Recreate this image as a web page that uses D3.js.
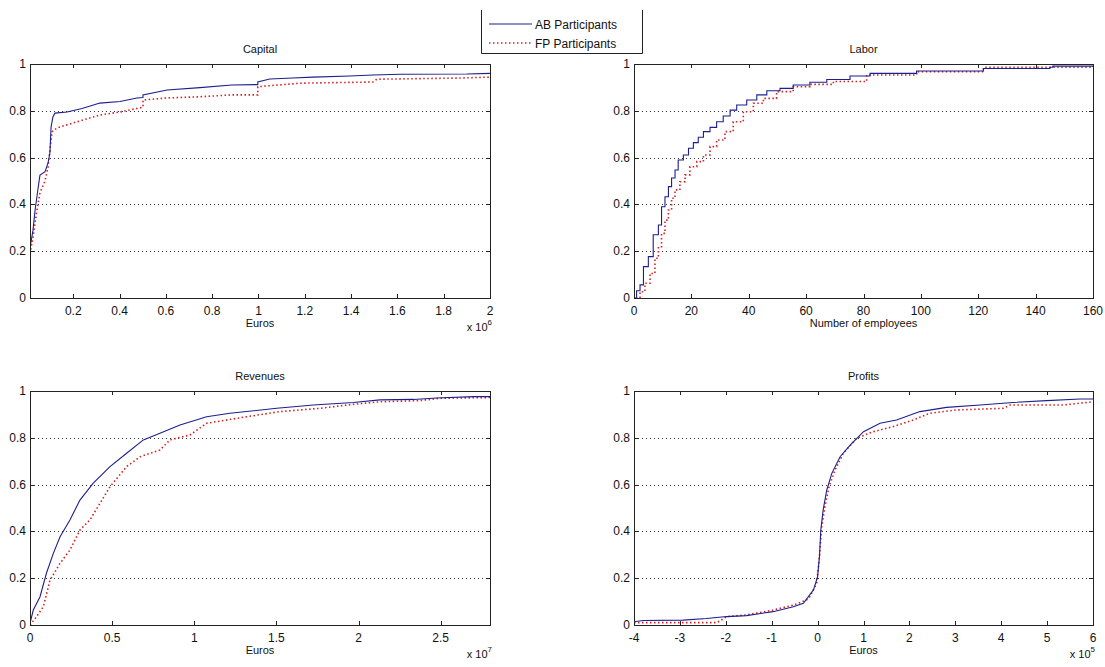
<!DOCTYPE html>
<html>
<head>
<meta charset="utf-8">
<script src="https://cdn.jsdelivr.net/npm/d3@7"></script>
<style>
  body { margin: 0; background: #fff; }
  svg text { font-family: "Liberation Sans", Arial, sans-serif; fill: #111; }
</style>
</head>
<body>
<svg id="chart" width="1105" height="667"></svg>
<script>
const capitalAB = [[0.013,0.214],[0.026,0.29],[0.035,0.376],[0.048,0.47],[0.056,0.525],[0.078,0.54],[0.091,0.577],[0.099,0.62],[0.104,0.73],[0.112,0.774],[0.121,0.79],[0.173,0.795],[0.238,0.81],[0.315,0.833],[0.402,0.84],[0.475,0.855],[0.501,0.857],[0.501,0.868],[0.605,0.889],[0.747,0.899],[0.885,0.91],[0.997,0.912],[0.997,0.923],[1.049,0.936],[1.148,0.94],[1.235,0.944],[1.395,0.949],[1.494,0.953],[1.611,0.956],[1.9,0.957],[2.0,0.96]];
const capitalFP = [[0.013,0.19],[0.026,0.26],[0.043,0.376],[0.056,0.45],[0.078,0.5],[0.091,0.56],[0.099,0.63],[0.108,0.71],[0.13,0.727],[0.216,0.753],[0.315,0.782],[0.402,0.795],[0.475,0.81],[0.501,0.815],[0.501,0.846],[0.605,0.855],[0.747,0.86],[0.885,0.868],[0.997,0.868],[0.997,0.903],[1.179,0.918],[1.494,0.923],[1.511,0.935],[1.87,0.94],[2.0,0.944]];

const laborAB = [[0,0],[0.9,0.031],[2.1,0.056],[3.3,0.134],[5.0,0.177],[6.7,0.27],[8.5,0.312],[9.6,0.39],[10.8,0.433],[12.0,0.476],[13.1,0.513],[14.3,0.547],[15.4,0.59],[17.2,0.611],[19.0,0.64],[20.7,0.664],[22.4,0.687],[24.2,0.711],[26.5,0.729],[28.8,0.753],[31.1,0.778],[33.5,0.803],[35.8,0.825],[39.3,0.846],[42.8,0.868],[46.3,0.886],[50.9,0.896],[55.5,0.91],[61.3,0.922],[67.2,0.934],[75.3,0.949],[82.3,0.96],[98.5,0.97],[121.8,0.981],[145,0.986],[146,0.991],[160,0.991]];
const laborFP = [[0.7,0],[2.1,0.027],[3.8,0.063],[5.6,0.105],[7.3,0.17],[8.5,0.219],[9.6,0.276],[10.8,0.333],[12.0,0.376],[13.1,0.426],[14.3,0.462],[16.0,0.497],[17.8,0.526],[19.5,0.561],[21.9,0.583],[24.2,0.611],[26.5,0.647],[28.8,0.675],[31.7,0.711],[34.6,0.753],[38.1,0.796],[41.6,0.832],[45.1,0.853],[49.7,0.882],[55.5,0.903],[61.3,0.913],[69.5,0.925],[81.1,0.953],[98.5,0.967],[121.8,0.986],[160,0.99]];

const revenuesAB = [[0,0.007],[0.02,0.064],[0.061,0.121],[0.10,0.221],[0.142,0.306],[0.183,0.377],[0.243,0.449],[0.304,0.534],[0.385,0.606],[0.487,0.677],[0.588,0.734],[0.69,0.791],[0.791,0.819],[0.913,0.855],[1.075,0.89],[1.217,0.905],[1.502,0.926],[1.725,0.94],[1.968,0.951],[2.13,0.962],[2.333,0.964],[2.475,0.97],[2.7,0.976],[2.8,0.976]];
const revenuesFP = [[0,0],[0.04,0.036],[0.081,0.078],[0.122,0.192],[0.183,0.264],[0.243,0.32],[0.304,0.406],[0.365,0.449],[0.426,0.52],[0.487,0.591],[0.588,0.677],[0.67,0.719],[0.791,0.748],[0.852,0.791],[0.974,0.812],[1.075,0.862],[1.318,0.89],[1.521,0.912],[1.765,0.926],[1.968,0.943],[2.13,0.954],[2.374,0.959],[2.496,0.969],[2.8,0.972]];

const profitsAB = [[-4,0.014],[-3.8,0.019],[-2.93,0.021],[-2.42,0.028],[-1.98,0.036],[-1.55,0.04],[-0.97,0.057],[-0.53,0.078],[-0.31,0.093],[-0.09,0.15],[0.0,0.207],[0.04,0.292],[0.07,0.406],[0.12,0.491],[0.2,0.577],[0.31,0.648],[0.49,0.719],[0.71,0.769],[1.0,0.826],[1.36,0.862],[1.72,0.876],[2.23,0.912],[2.81,0.93],[3.54,0.94],[4.26,0.951],[4.99,0.959],[5.72,0.966],[6,0.966]];
const profitsFP = [[-4,0.01],[-2.2,0.01],[-2.1,0.021],[-1.98,0.036],[-1.55,0.043],[-0.97,0.064],[-0.53,0.085],[-0.24,0.107],[-0.17,0.121],[-0.02,0.178],[0.04,0.292],[0.09,0.42],[0.16,0.506],[0.25,0.591],[0.38,0.662],[0.56,0.734],[0.85,0.798],[1.21,0.826],[1.65,0.848],[2.08,0.876],[2.45,0.905],[3.03,0.919],[4.05,0.926],[4.19,0.94],[5.35,0.94],[6,0.954]];

const yTicks = [0, 0.2, 0.4, 0.6, 0.8, 1];
const capitalTicks = [0.2, 0.4, 0.6, 0.8, 1, 1.2, 1.4, 1.6, 1.8, 2];
const laborTicks = [0, 20, 40, 60, 80, 100, 120, 140, 160];
const revenuesTicks = [0, 0.5, 1, 1.5, 2, 2.5];
const profitsTicks = [-4, -3, -2, -1, 0, 1, 2, 3, 4, 5, 6];
const legendLabels = ['AB Participants', 'FP Participants'];

const colorAB = '#1e1e8e';
const colorFP = '#d42020';

const svg = d3.select('#chart');

const panels = [
  {id: 'cap', title: 'Capital', xlabel: 'Euros', exp: '6', domain: [0.013, 2], ticks: capitalTicks,
   ab: capitalAB, fp: capitalFP, box: [30, 490, 64, 298], step: false},
  {id: 'lab', title: 'Labor', xlabel: 'Number of employees', exp: null, domain: [0, 160], ticks: laborTicks,
   ab: laborAB, fp: laborFP, box: [634, 1093, 64, 298], step: true},
  {id: 'rev', title: 'Revenues', xlabel: 'Euros', exp: '7', domain: [0, 2.8], ticks: revenuesTicks,
   ab: revenuesAB, fp: revenuesFP, box: [30, 490, 391, 625], step: false},
  {id: 'pro', title: 'Profits', xlabel: 'Euros', exp: '5', domain: [-4, 6], ticks: profitsTicks,
   ab: profitsAB, fp: profitsFP, box: [634, 1093, 391, 625], step: false}
];

function fmt(t) {
  return String(+t.toFixed(2));
}

panels.forEach(function (p) {
  const [x0, x1, y0, y1] = p.box;
  const x = d3.scaleLinear().domain(p.domain).range([x0, x1]);
  const y = d3.scaleLinear().domain([0, 1]).range([y1, y0]);
  const g = svg.append('g');

  g.append('clipPath').attr('id', 'clip-' + p.id)
    .append('rect').attr('x', x0).attr('y', y0).attr('width', x1 - x0).attr('height', y1 - y0);

  // dotted horizontal grid
  g.selectAll('.grid').data([0.2, 0.4, 0.6, 0.8]).enter().append('line')
    .attr('x1', x0).attr('x2', x1)
    .attr('y1', d => Math.round(y(d)) + 0.5).attr('y2', d => Math.round(y(d)) + 0.5)
    .attr('stroke', '#333').attr('stroke-width', 1).attr('stroke-dasharray', '1,3');

  const line = d3.line()
    .x(d => x(d[0])).y(d => y(d[1]))
    .curve(p.step ? d3.curveStepAfter : d3.curveLinear);

  const plot = g.append('g').attr('clip-path', 'url(#clip-' + p.id + ')');
  plot.append('path').datum(p.fp).attr('d', line)
    .attr('fill', 'none').attr('stroke', colorFP).attr('stroke-width', 1.6)
    .attr('stroke-dasharray', '1.5,2.5');
  plot.append('path').datum(p.ab).attr('d', line)
    .attr('fill', 'none').attr('stroke', colorAB).attr('stroke-width', 1.1);

  // box
  g.append('rect').attr('x', x0 + 0.5).attr('y', y0 + 0.5)
    .attr('width', x1 - x0).attr('height', y1 - y0)
    .attr('fill', 'none').attr('stroke', '#222').attr('stroke-width', 1);

  // inward ticks, all four sides
  const tl = 4;
  p.ticks.forEach(function (t) {
    const xp = Math.round(x(t)) + 0.5;
    g.append('line').attr('x1', xp).attr('x2', xp).attr('y1', y1).attr('y2', y1 - tl).attr('stroke', '#222');
    g.append('line').attr('x1', xp).attr('x2', xp).attr('y1', y0).attr('y2', y0 + tl).attr('stroke', '#222');
    g.append('text').attr('x', x(t)).attr('y', y1 + 17)
      .attr('text-anchor', 'middle').attr('font-size', 12).text(fmt(t));
  });
  yTicks.forEach(function (t) {
    const yp = Math.round(y(t)) + 0.5;
    g.append('line').attr('x1', x0).attr('x2', x0 + tl).attr('y1', yp).attr('y2', yp).attr('stroke', '#222');
    g.append('line').attr('x1', x1).attr('x2', x1 - tl).attr('y1', yp).attr('y2', yp).attr('stroke', '#222');
    g.append('text').attr('x', x0 - 4).attr('y', y(t) + 4)
      .attr('text-anchor', 'end').attr('font-size', 12).text(fmt(t));
  });

  g.append('text').attr('x', (x0 + x1) / 2).attr('y', y0 - 11)
    .attr('text-anchor', 'middle').attr('font-size', 11).text(p.title);
  g.append('text').attr('x', (x0 + x1) / 2).attr('y', y1 + 29)
    .attr('text-anchor', 'middle').attr('font-size', 11).text(p.xlabel);

  if (p.exp) {
    const e = g.append('text').attr('x', x1 + 2).attr('y', y1 + 33)
      .attr('text-anchor', 'end').attr('font-size', 11);
    e.append('tspan').text('x 10');
    e.append('tspan').attr('dy', -6).attr('font-size', 8).text(p.exp);
  }
});

// legend (top edge sits off the visible frame in the original)
const lg = svg.append('g');
lg.append('rect').attr('x', 481.5).attr('y', 12.5).attr('width', 161).attr('height', 41)
  .attr('fill', '#fff').attr('stroke', 'none');
lg.append('path').attr('d', 'M481.5,10V53.5H642.5V10')
  .attr('fill', 'none').attr('stroke', '#222');
legendLabels.forEach(function (lab, i) {
  const yy = 24 + i * 19;
  lg.append('line').attr('x1', 489).attr('x2', 532).attr('y1', yy).attr('y2', yy)
    .attr('stroke', i === 0 ? colorAB : colorFP)
    .attr('stroke-width', i === 0 ? 1.1 : 1.6)
    .attr('stroke-dasharray', i === 0 ? null : '1.5,2.5');
  lg.append('text').attr('x', 535).attr('y', yy + 4.5).attr('font-size', 12).text(lab);
});
</script>
</body>
</html>
